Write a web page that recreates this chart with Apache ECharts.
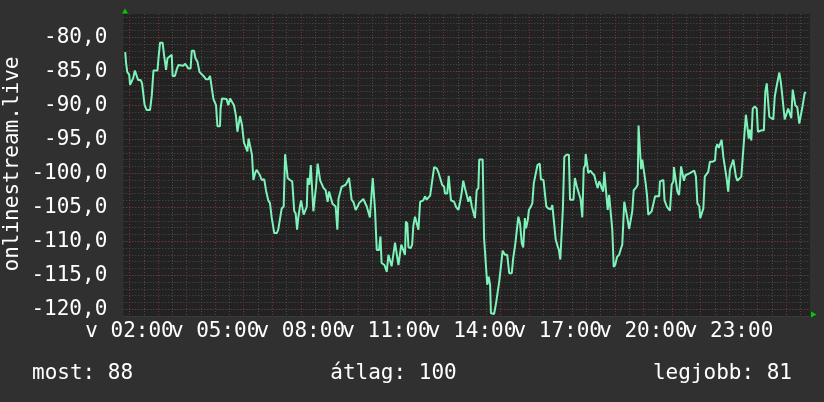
<!DOCTYPE html>
<html>
<head>
<meta charset="utf-8">
<script src="https://cdn.jsdelivr.net/npm/echarts@6/dist/echarts.min.js"></script>
<style>
  html, body { margin: 0; padding: 0; background: #303030; }
  #chart { width: 824px; height: 402px; }
</style>
</head>
<body>
<div id="chart"></div>
<script>
// ---- adatok (órák 00:00-tól, 24 fölött = következő nap) ----
var hours = [
  1.85,1.88,1.92,1.99,2.02,2.09,2.13,2.19,2.25,2.30,
  2.39,2.44,2.48,2.53,2.60,2.72,2.78,2.84,2.98,3.02,
  3.07,3.16,3.21,3.28,3.33,3.48,3.51,3.59,3.65,3.71,
  3.89,3.94,4.00,4.06,4.14,4.18,4.26,4.31,4.38,4.45,
  4.59,4.68,4.76,4.82,4.89,4.94,5.03,5.08,5.17,5.19,
  5.24,5.40,5.46,5.52,5.59,5.66,5.73,5.78,5.82,5.87,
  5.94,6.01,6.08,6.13,6.17,6.24,6.29,6.34,
  6.40,6.45,6.51,6.57,6.63,6.72,6.78,6.86,6.92,6.98,
  7.07,7.16,7.21,7.28,7.33,7.40,7.45,7.51,7.54,7.62,
  7.70,7.77,7.82,7.87,7.91,7.97,8.01,8.05,8.10,8.15,
  8.21,8.24,8.30,8.35,8.40,8.44,8.50,8.54,8.59,8.64,
  8.68,8.73,8.80,8.87,8.94,8.99,9.06,9.11,9.18,9.22,
  9.28,9.32,9.39,9.43,9.50,9.57,9.64,9.69,9.72,9.78,
  9.85,9.92,9.99,10.04,10.11,10.19,10.25,10.31,10.37,10.42,
  10.48,10.52,10.56,10.60,10.66,10.74,10.79,10.83,10.93,11.01,
  11.07,
  11.12,11.18,11.24,11.30,11.36,11.42,11.47,11.52,11.59,11.65,
  11.68,11.73,11.77,11.85,11.90,11.94,12.00,12.06,12.12,12.18,
  12.23,12.29,12.35,12.41,12.48,12.53,12.60,12.67,12.76,12.83,
  12.90,12.95,13.02,13.05,13.13,13.18,13.23,13.26,13.32,13.37,
  13.44,13.52,13.58,13.63,13.69,13.75,13.81,13.87,13.93,13.99,
  14.04,14.10,14.16,14.22,14.25,14.37,14.42,14.49,14.53,14.58,
  14.63,14.66,14.77,14.84,14.90,14.95,15.01,15.07,15.15,15.23,
  15.30,15.39,15.44,15.51,15.56,15.62,15.68,15.74,15.79,
  15.85,15.89,15.95,15.99,16.06,16.11,16.16,16.23,16.29,16.37,
  16.41,16.50,16.55,16.60,16.67,16.76,16.81,16.88,16.93,17.00,
  17.04,17.09,17.14,17.18,17.23,17.30,17.39,17.43,17.49,17.55,
  17.60,17.67,17.74,17.80,17.86,17.91,17.96,17.98,18.03,18.07,
  18.14,18.21,18.28,18.35,18.40,18.45,18.49,18.54,18.59,18.63,
  18.70,18.75,18.80,18.87,18.91,18.96,19.01,19.08,19.15,19.22,
  19.26,19.33,19.38,19.43,19.50,19.57,19.61,19.66,19.73,19.80,
  19.83,19.89,19.92,19.96,20.03,20.08,20.13,20.17,20.24,20.29,
  20.36,20.41,20.48,20.55,
  20.58,20.64,20.70,20.74,20.82,20.89,20.93,20.99,21.05,21.07,
  21.14,21.19,21.25,21.28,21.32,21.38,21.42,21.47,21.54,21.63,
  21.70,21.78,21.84,21.89,21.96,21.99,22.05,22.10,22.15,22.22,
  22.27,22.33,22.43,22.51,22.54,22.59,22.64,22.68,22.74,22.80,
  22.86,22.92,22.97,23.03,23.09,23.15,23.20,23.24,23.29,23.36,
  23.43,23.48,23.55,23.59,23.64,23.69,23.73,23.78,23.83,23.90,
  23.97,24.01,24.08,24.14,24.22,24.27,24.32,24.36,24.41,24.48,
  24.55,24.60,24.64,24.71,24.76,24.81,24.85,24.90,24.95,25.02,
  25.07,25.14,25.18,25.23,25.28,25.32,25.39,25.46,25.53,25.58,
  25.65,25.70
];

var values = [
  -82.2,-83.8,-85.1,-85.5,-87.0,-87.0,-86.0,-84.9,-84.9,-86.3,
  -86.3,-86.8,-86.9,-90.0,-90.7,-90.7,-88.6,-84.9,-84.9,-82.9,
  -80.8,-80.8,-82.6,-84.8,-83.1,-82.6,-85.7,-85.7,-84.8,-84.1,
  -84.2,-83.9,-84.2,-84.6,-84.6,-82.0,-82.0,-83.1,-83.6,-85.1,
  -85.7,-86.2,-86.2,-85.7,-85.8,-89.1,-90.0,-93.1,-93.1,-90.5,
  -89.0,-89.1,-90.0,-89.0,-89.0,-90.0,-91.6,-93.9,-93.9,-91.6,
  -92.9,-95.5,-95.6,-96.8,-94.9,-94.9,-97.3,-101.0,
  -100.0,-99.5,-99.6,-100.3,-101.0,-100.9,-102.5,-104.0,-104.4,-106.5,
  -108.8,-108.8,-108.3,-108.1,-105.2,-104.9,-97.2,-97.2,-100.7,-101.0,
  -101.2,-105.6,-105.9,-108.3,-106.6,-104.9,-104.0,-104.2,-106.1,-106.3,
  -104.9,-100.7,-101.7,-98.8,-98.8,-105.6,-105.6,-101.7,-98.6,-98.6,
  -101.1,-101.2,-102.2,-102.5,-104.2,-102.7,-102.7,-104.5,-104.7,-104.9,
  -108.3,-103.8,-103.7,-102.0,-102.2,-101.7,-101.2,-100.7,-101.7,-103.9,
  -104.3,-105.4,-104.9,-104.4,-104.2,-103.8,-103.9,-104.9,-104.9,-106.5,
  -106.4,-100.7,-100.7,-105.4,-111.3,-111.3,-109.3,-113.2,-113.5,-114.5,
  -112.0,
  -111.8,-113.7,-112.0,-110.2,-110.1,-113.5,-113.5,-110.5,-110.7,-112.0,
  -107.1,-107.4,-110.9,-111.0,-110.5,-107.8,-106.4,-106.3,-108.3,-104.2,
  -104.0,-104.0,-103.4,-103.9,-103.9,-103.3,-101.2,-99.1,-99.3,-100.0,
  -100.1,-101.7,-102.0,-103.0,-103.0,-100.4,-100.4,-104.0,-104.0,-104.2,
  -105.0,-105.4,-104.2,-103.0,-101.1,-102.2,-102.2,-104.2,-103.4,-104.9,
  -104.9,-106.6,-102.5,-102.2,-98.0,-98.0,-109.6,-109.6,-116.4,-115.2,
  -116.4,-120.6,-120.7,-119.1,-119.1,-115.9,-113.7,-111.4,-112.0,-112.0,
  -114.7,-114.7,-112.5,-110.5,-110.5,-106.4,-107.4,-110.3,-110.9,
  -106.6,-108.1,-106.9,-105.4,-104.9,-104.4,-101.5,-101.4,-98.8,-98.6,
  -100.9,-101.0,-101.2,-104.9,-105.2,-105.3,-104.7,-104.5,-109.8,-110.8,
  -111.3,-112.7,-112.7,-105.2,-97.6,-97.3,-97.3,-103.9,-104.0,-103.9,
  -100.7,-102.0,-102.0,-103.8,-106.5,-99.3,-98.8,-97.2,-97.2,-100.0,
  -99.6,-100.0,-100.3,-101.5,-102.2,-101.2,-101.5,-102.2,-102.7,-99.8,
  -99.8,-105.4,-103.2,-103.2,-108.3,-113.8,-113.5,-112.3,-112.0,-111.0,
  -110.5,-104.2,-104.2,-106.4,-108.2,-108.3,-105.6,-102.5,-102.2,-101.7,
  -93.0,-93.0,-99.4,-98.0,-98.0,-101.5,-103.4,-106.1,-106.1,-105.6,
  -105.6,-103.4,-103.4,-103.4,
  -101.2,-101.0,-101.0,-104.0,-104.9,-105.0,-105.5,-101.7,-101.2,-99.1,
  -99.1,-102.7,-103.2,-101.5,-99.0,-99.0,-101.1,-100.3,-100.3,-100.0,
  -99.8,-99.6,-100.5,-104.4,-104.9,-106.6,-106.6,-105.2,-100.5,-100.3,
  -99.8,-98.3,-98.3,-98.1,-96.3,-95.7,-96.3,-95.8,-95.1,-97.6,
  -97.8,-100.9,-102.7,-99.5,-99.5,-98.0,-98.0,-100.5,-101.1,-101.2,
  -100.5,-97.6,-97.6,-91.4,-91.6,-94.9,-93.6,-95.2,-90.5,-90.2,
  -90.5,-93.9,-93.9,-93.7,-93.7,-88.0,-86.8,-86.8,-91.7,-91.8,
  -92.1,-88.8,-87.8,-87.7,-85.2,-86.5,-88.0,-88.2,-92.1,-91.9,
  -90.5,-90.6,-91.9,-87.7,-87.7,-90.0,-90.3,-92.7,-92.7,-90.0,
  -88.2,-88.1
];

var xLabels = ['v 02:00', 'v 05:00', 'v 08:00', 'v 11:00', 'v 14:00', 'v 17:00', 'v 20:00', 'v 23:00'];
var yAxisName = 'onlinestream.live';
var legendItems = ['most: 88', 'átlag: 100', 'legjobb: 81'];

// ---- elrendezés ----
var FONT = 'DejaVu Sans Mono';
var plotL = 123.3, plotR = 810, plotT = 14, plotB = 316;
var x02 = 129.5, pxHour = 28.55;   // 02:00 helye, px / óra
var pxUnit = 6.8;                  // px / dB
var yMinData = -121;
var yMaxData = yMinData + (plotB - plotT) / pxUnit;
var xMinData = 2 + (plotL - x02) / pxHour;
var xMaxData = 2 + (plotR - x02) / pxHour;
var yAt = function (v) { return plotB - (v - yMinData) * pxUnit; };

var gridGray = '#4c4c4c';
var gridRed = '#7a3434';
var lineColor = '#7df2b9';

var seriesData = hours.map(function (h, i) { return [h, values[i]]; });

var hidden = { show: false };
var chart = echarts.init(document.getElementById('chart'));

var option = {
  backgroundColor: '#303030',
  animation: false,
  grid: [
    { left: plotL, top: plotT, width: plotR - plotL, height: plotB - plotT },
    { left: plotL, top: yAt(-80), width: plotR - plotL, height: yAt(-120) - yAt(-80) },
    { left: x02, top: plotT, width: 23.5 * pxHour, height: plotB - plotT },
    { left: x02, top: plotT, width: 23 * pxHour, height: plotB - plotT }
  ],
  xAxis: [
    { gridIndex: 0, type: 'value', min: xMinData, max: xMaxData, show: false },
    { gridIndex: 1, type: 'value', min: 0, max: 1, show: false },
    {
      gridIndex: 2, type: 'value', min: 2, max: 25.5, interval: 0.5,
      axisLine: hidden, axisTick: hidden, axisLabel: hidden,
      splitLine: { show: true, lineStyle: { color: gridGray, width: 1, type: [1, 2] } }
    },
    {
      gridIndex: 3, type: 'value', min: 2, max: 25, interval: 1,
      axisLine: hidden, axisTick: hidden,
      axisLabel: {
        color: '#ffffff', fontFamily: FONT, fontSize: 21, margin: 5,
        formatter: function (v) {
          var k = (v - 2) / 3;
          return (k === Math.round(k) && k < xLabels.length) ? xLabels[k] : '';
        }
      },
      splitLine: { show: true, lineStyle: { color: gridRed, width: 1, type: [1, 2] } }
    }
  ],
  yAxis: [
    {
      gridIndex: 0, type: 'value', min: yMinData, max: yMaxData, interval: 1,
      axisLine: hidden, axisTick: hidden, axisLabel: hidden,
      splitLine: { show: true, showMaxLine: false, lineStyle: { color: gridGray, width: 1, type: [1, 2] } }
    },
    {
      gridIndex: 1, type: 'value', min: -120, max: -80, interval: 5,
      axisLine: hidden, axisTick: hidden,
      axisLabel: {
        color: '#ffffff', fontFamily: FONT, fontSize: 21, margin: 16,
        formatter: function (v) { return v.toFixed(1).replace('.', ','); }
      },
      splitLine: { show: true, lineStyle: { color: gridRed, width: 1, type: [1, 2] } }
    },
    { gridIndex: 2, type: 'value', min: 0, max: 1, show: false },
    { gridIndex: 3, type: 'value', min: 0, max: 1, show: false }
  ],
  graphic: [
    { type: 'rect', z: -10, silent: true,
      shape: { x: plotL, y: plotT, width: plotR - plotL, height: plotB - plotT },
      style: { fill: '#222222' } },
    { type: 'polygon', silent: true,
      shape: { points: [[122, 13.5], [128, 13.5], [125, 8.5]] },
      style: { fill: '#00cc00' } },
    { type: 'polygon', silent: true,
      shape: { points: [[811, 311.5], [811, 317.5], [816.5, 314.5]] },
      style: { fill: '#00cc00' } },
    { type: 'text', silent: true, x: 12.5, y: 164, rotation: Math.PI / 2,
      style: { text: yAxisName, fill: '#ffffff', fontFamily: FONT, fontSize: 21,
               align: 'center', verticalAlign: 'middle' } },
    { type: 'text', silent: true, x: 32, y: 374,
      style: { text: legendItems[0], fill: '#ffffff', fontFamily: FONT, fontSize: 21,
               align: 'left', verticalAlign: 'middle' } },
    { type: 'text', silent: true, x: 393.5, y: 374,
      style: { text: legendItems[1], fill: '#ffffff', fontFamily: FONT, fontSize: 21,
               align: 'center', verticalAlign: 'middle' } },
    { type: 'text', silent: true, x: 792, y: 374,
      style: { text: legendItems[2], fill: '#ffffff', fontFamily: FONT, fontSize: 21,
               align: 'right', verticalAlign: 'middle' } }
  ],
  series: [
    {
      name: yAxisName,
      type: 'line',
      xAxisIndex: 0,
      yAxisIndex: 0,
      data: seriesData,
      showSymbol: false,
      z: 5,
      lineStyle: { color: lineColor, width: 2 }
    }
  ]
};
chart.setOption(option);
</script>
</body>
</html>
